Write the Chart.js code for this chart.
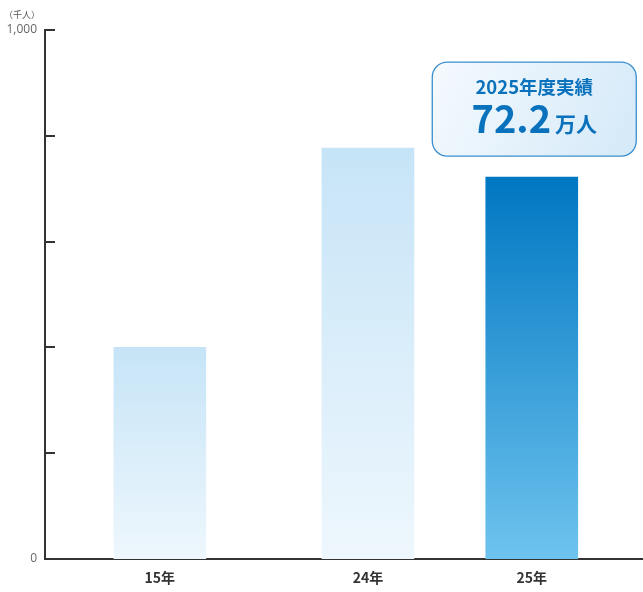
<!DOCTYPE html>
<html lang="ja">
<head>
<meta charset="utf-8">
<title>利用者数の推移</title>
<script src="https://cdn.jsdelivr.net/npm/chart.js@4.4.1/dist/chart.umd.min.js"></script>
<style>
  html, body { margin: 0; padding: 0; background: #ffffff; }
  #wrap { position: relative; width: 643px; height: 592px; }
</style>
</head>
<body>
<div id="wrap"><canvas id="chart" width="643" height="592"></canvas></div>
<script>
// Fiscal-year categories and visitor counts (thousands of people)
const categories = ['15年', '24年', '25年'];
const visitors = [400, 777, 722];
const yTickLabels = ['0', '1,000'];
const unitLabel = '（千人）';
const highlightTitle = '2025年度実績';
const highlightUnit = '万人';

// Horizontal slot of each bar on the linear x scale (layout only)
const slots = [1.92, 5.40, 8.14];

const FONT = '"Noto Sans CJK JP", "Noto Sans", sans-serif';

function barGradient(ctx, top, bottom, c0, c1) {
  const g = ctx.createLinearGradient(0, top, 0, bottom);
  g.addColorStop(0, c0);
  g.addColorStop(1, c1);
  return g;
}

const barFill = (context) => {
  const chart = context.chart;
  const { ctx, chartArea, scales } = chart;
  if (!chartArea || context.dataIndex === undefined) return '#c8e5f7';
  const v = visitors[context.dataIndex];
  const top = scales.y.getPixelForValue(v);
  const bottom = scales.y.getPixelForValue(0);
  if (context.dataIndex === categories.length - 1) {
    return barGradient(ctx, top, bottom, '#0077c2', '#6ec3ee');
  }
  return barGradient(ctx, top, bottom, '#c6e4f7', '#eef7fd');
};

// Inward tick marks on the value axis plus the unit caption
const axisDecor = {
  id: 'axisDecor',
  afterDraw(chart) {
    const { ctx, scales } = chart;
    const y = scales.y;
    const left = chart.chartArea.left;
    ctx.save();
    ctx.strokeStyle = '#333333';
    ctx.lineWidth = 2;
    for (let v = 200; v <= 1000; v += 200) {
      const py = Math.round(y.getPixelForValue(v)) ;
      ctx.beginPath();
      ctx.moveTo(left, py);
      ctx.lineTo(left + 10, py);
      ctx.stroke();
    }
    ctx.fillStyle = '#555555';
    ctx.font = '9px ' + FONT;
    ctx.textAlign = 'center';
    ctx.textBaseline = 'middle';
    ctx.fillText(unitLabel, 22, 15);
    ctx.restore();
  }
};

// Rounded callout above the latest bar showing its value in 万人
const callout = {
  id: 'callout',
  afterDatasetsDraw(chart) {
    const { ctx } = chart;
    const idx = categories.length - 1;
    const bar = chart.getDatasetMeta(0).data[idx];
    if (!bar) return;
    const w = 204, h = 94, r = 15;
    const cx = bar.x + 2.5;
    const x0 = cx - w / 2;
    const y1 = bar.y - 21;
    const y0 = y1 - h;
    ctx.save();
    const g = ctx.createLinearGradient(x0, y0, x0 + w, y1);
    g.addColorStop(0, '#f5fafe');
    g.addColorStop(1, '#d4e9f8');
    ctx.beginPath();
    ctx.roundRect(x0, y0, w, h, r);
    ctx.fillStyle = g;
    ctx.fill();
    ctx.strokeStyle = '#3a8fd0';
    ctx.lineWidth = 1.3;
    ctx.stroke();

    ctx.fillStyle = '#0a72bd';
    ctx.textBaseline = 'alphabetic';
    ctx.textAlign = 'center';
    ctx.font = 'bold 18.5px ' + FONT;
    ctx.fillText(highlightTitle, cx, y0 + 32);

    const big = (visitors[idx] / 10).toFixed(1);
    ctx.font = 'bold 38px ' + FONT;
    const wBig = ctx.measureText(big).width;
    ctx.font = 'bold 21px ' + FONT;
    const wUnit = ctx.measureText(highlightUnit).width;
    const gap = 4;
    const start = cx - (wBig + gap + wUnit) / 2;
    const base = y0 + 71;
    ctx.textAlign = 'left';
    ctx.font = 'bold 38px ' + FONT;
    ctx.fillText(big, start, base);
    ctx.font = 'bold 21px ' + FONT;
    ctx.fillText(highlightUnit, start + wBig + gap, base - 1);
    ctx.restore();
  }
};

new Chart(document.getElementById('chart'), {
  type: 'bar',
  data: {
    datasets: [{
      data: categories.map((c, i) => ({ x: slots[i], y: visitors[i] })),
      backgroundColor: barFill,
      borderWidth: 0,
      barThickness: 92
    }]
  },
  options: {
    responsive: false,
    animation: false,
    events: [],
    layout: { padding: { top: 30, right: 0, left: 0, bottom: 0 } },
    plugins: { legend: { display: false }, tooltip: { enabled: false } },
    scales: {
      x: {
        type: 'linear',
        offset: false,
        min: 0,
        max: 10,
        grid: { display: false, drawTicks: false },
        border: { display: true, color: '#333333', width: 2 },
        afterBuildTicks: (s) => { s.ticks = slots.map(v => ({ value: v })); },
        afterFit: (s) => { s.height = 33; },
        ticks: {
          autoSkip: false,
          maxRotation: 0,
          padding: 10,
          color: '#333333',
          font: { family: FONT, size: 14, weight: 'bold' },
          callback: (v, i) => categories[i]
        }
      },
      y: {
        min: 0,
        max: 1000,
        grid: { display: false, drawTicks: false },
        border: { display: true, color: '#333333', width: 2 },
        afterBuildTicks: (s) => { s.ticks = [0, 200, 400, 600, 800, 1000].map(v => ({ value: v })); },
        afterFit: (s) => { s.width = 45; },
        ticks: {
          padding: 8,
          color: '#666666',
          font: { family: '"Open Sans", "Noto Sans", sans-serif', size: 12 },
          callback: (v) => v === 0 ? yTickLabels[0] : (v === 1000 ? yTickLabels[1] : '')
        }
      }
    }
  },
  plugins: [axisDecor, callout]
});
</script>
</body>
</html>
